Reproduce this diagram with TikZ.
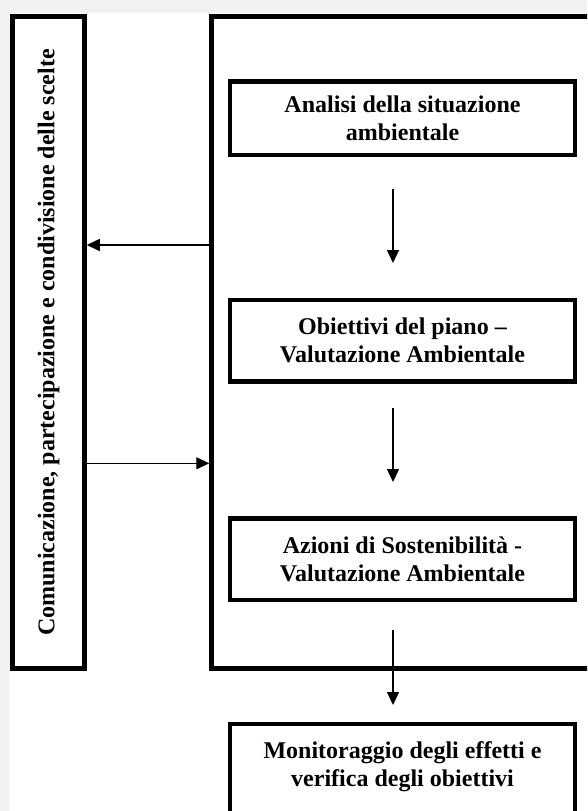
\documentclass[tikz,border=0pt]{standalone}
\usepackage{fontspec}
\setmainfont{Liberation Serif}
\usetikzlibrary{arrows.meta}
\definecolor{pagebg}{RGB}{242,242,242}

\begin{document}
\begin{tikzpicture}[x=1pt,y=-1pt,
        frame/.style={draw,line width=4.5pt},
        box/.style={frame,minimum width=345pt,align=center,font=\fontsize{24}{28}\selectfont\bfseries},
        flow/.style={line width=1.3pt,-{Triangle[length=13pt,width=12pt]}}]
            \useasboundingbox (0,0) rectangle (587,811);
            \clip (0,0) rectangle (587,811);
            \fill[pagebg] (0,0) rectangle (587,811);
            \fill[white] (10,13) rectangle (587,811);

            % left column and the open frame
            \node[frame,minimum width=72pt,minimum height=652pt,font=\fontsize{24}{28}\selectfont\bfseries] (comm) at (48.5,342.5)
                {\rotatebox{90}{Comunicazione, partecipazione e condivisione delle scelte}};
            \node[frame,minimum width=420pt,minimum height=652pt,anchor=west] (proc) at (209.25,342.5) {};

            % steps
            \node[box,minimum height=73.5pt] (anal) at (402.5,118.25) {Analisi della situazione\\ambientale};
            \node[box,minimum height=81.5pt] (obie) at (402.5,340.75) {Obiettivi del piano –\\Valutazione Ambientale};
            \node[box,minimum height=81.5pt] (azio) at (402.5,559.25) {Azioni di Sostenibilità -\\Valutazione Ambientale};
            \node[box,anchor=north,inner ysep=18pt,text depth=80pt] (moni) at (402.5,721.75) {Monitoraggio degli effetti e\\verifica degli obiettivi};

            \draw[flow,shorten <=31.75pt,shorten >=34.75pt] ([xshift=-9.5pt]anal.south) -- ([xshift=-9.5pt]obie.north);
            \draw[flow,shorten <=24.25pt,shorten >=34.25pt] ([xshift=-9.5pt]obie.south) -- ([xshift=-9.5pt]azio.north);
            \draw[flow,shorten <=27.75pt,shorten >=16.75pt] ([xshift=-9.5pt]azio.south) -- ([xshift=-9.5pt]moni.north);

            % exchange with the left column
            \coordinate (fbk) at (0,245);
            \coordinate (fwd) at (0,463.3);
            \draw[flow] (proc.west |- fbk) -- (comm.east |- fbk);
            \draw[flow] (comm.east |- fwd) -- (proc.west |- fwd);
        \end{tikzpicture}
\end{document}
